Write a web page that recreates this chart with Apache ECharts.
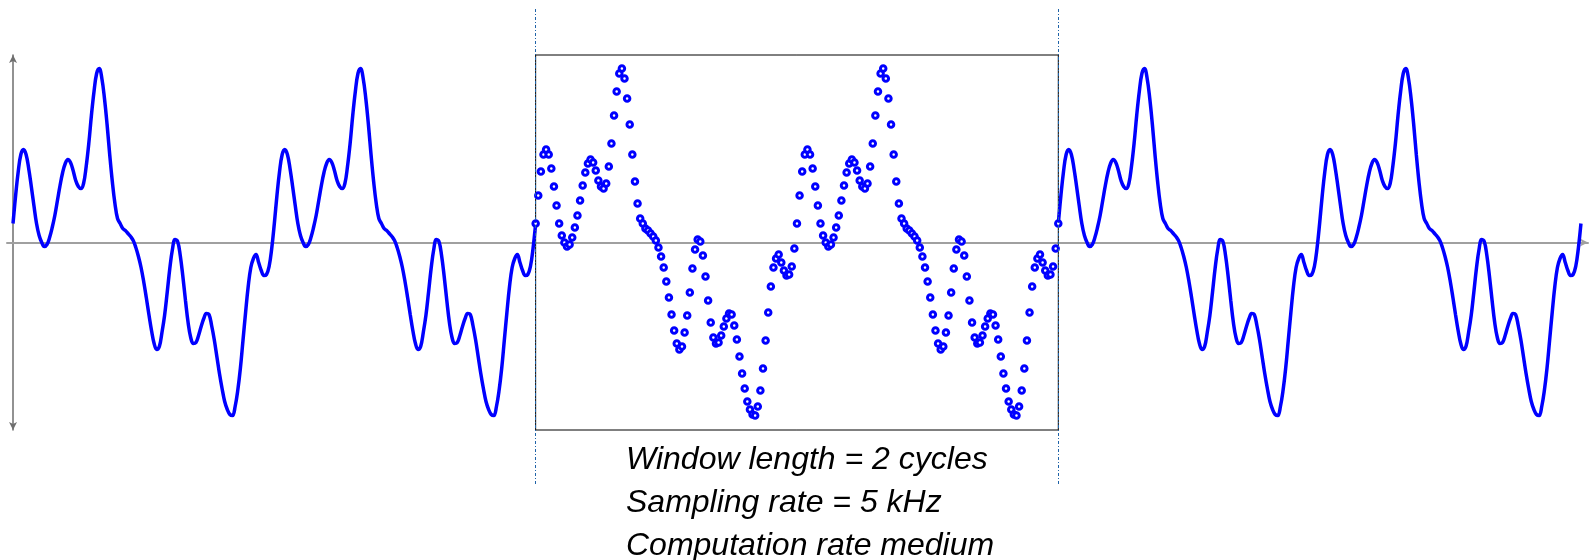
<!DOCTYPE html>
<html lang="en">
  <head>
    <meta charset="utf-8" />
    <title>Sampled waveform window</title>
    <script src="https://cdn.jsdelivr.net/npm/echarts@6.0.0/dist/echarts.min.js"></script>
    <style>
      html, body { margin: 0; padding: 0; background: #fff; }
      #main { width: 1591px; height: 560px; }
    </style>
  </head>
  <body>
    <div id="main"></div>
    <script>
      // one cycle of the waveform, 100 samples
      var cycle = [
        19, 47, 71, 88, 93, 88, 74, 56, 37, 19,
        7, 0, -4, -2, 5, 15, 27, 42, 57, 70,
        79, 83, 80, 72, 62, 56, 54, 59, 76, 99,
        127, 151, 169, 174, 164, 144, 118, 88, 61, 39,
        24, 19, 14, 12, 9, 6, 2, -5, -14, -25,
        -39, -55, -72, -88, -101, -107, -104, -90, -73, -50,
        -26, -7, 3, 1, -13, -34, -58, -80, -95, -101,
        -100, -93, -84, -76, -71, -72, -83, -97, -114, -131,
        -146, -159, -167, -172, -173, -164, -148, -126, -98, -70,
        -44, -25, -16, -12, -20, -28, -33, -32, -24, -6
      ];
      var samplesPerCycle = 100;
      var windowStart = 200;   // sample index where the window begins
      var windowEnd = 400;     // sample index where the window ends
      var totalSamples = 600;  // 6 cycles shown
      var notes = [
        "Window length = 2 cycles",
        "Sampling rate = 5 kHz",
        "Computation rate medium"
      ];

      function points(from, to) {
        var out = [];
        for (var i = from; i <= to; i++) {
          out.push([i, cycle[i % samplesPerCycle]]);
        }
        return out;
      }

      var blue = "#0000ff";
      var chart = echarts.init(document.getElementById("main"));

      var option = {
        animation: false,
        grid: [
          { left: 7, right: 3, top: 55, bottom: 130 },
          { left: 7, right: 3, top: 8, bottom: 76 }
        ],
        xAxis: [
          {
            type: "value", gridIndex: 0, min: -2.3, max: 602.7,
            axisLine: {
              onZero: true,
              symbol: ["none", "arrow"],
              symbolSize: [6, 8],
              lineStyle: { color: "#a0a0a0", width: 2 }
            },
            axisTick: { show: false },
            axisLabel: { show: false },
            splitLine: { show: false }
          },
          {
            type: "value", gridIndex: 1, min: -2.3, max: 602.7, show: false
          }
        ],
        yAxis: [
          {
            type: "value", gridIndex: 0, min: -187.5, max: 187.5,
            axisLine: {
              show: true,
              onZero: true,
              symbol: ["arrow", "arrow"],
              symbolSize: [6, 8],
              lineStyle: { color: "#6e6e6e", width: 1.5 }
            },
            axisTick: { show: false },
            axisLabel: { show: false },
            splitLine: { show: false }
          },
          {
            type: "value", gridIndex: 1, min: 0, max: 1, show: false
          }
        ],
        series: [
          {
            type: "line",
            data: points(0, windowStart),
            smooth: 0.4,
            symbol: "none",
            lineStyle: { color: blue, width: 3.5 }
          },
          {
            type: "line",
            data: points(windowEnd, totalSamples),
            smooth: 0.4,
            symbol: "none",
            lineStyle: { color: blue, width: 3.5 }
          },
          {
            // samples inside the window: white-centred rings
            type: "scatter",
            data: points(windowStart, windowEnd),
            symbol: "circle",
            symbolSize: 5.5,
            itemStyle: { color: "#fff", borderColor: blue, borderWidth: 3, opacity: 1 },
            markArea: {
              silent: true,
              itemStyle: {
                color: "rgba(0,0,0,0)",
                borderColor: "#000",
                borderWidth: 1
              },
              data: [[
                { xAxis: windowStart, yAxis: 187.5 },
                { xAxis: windowEnd, yAxis: -187.5 }
              ]]
            },
            z: 3
          },
          {
            // window edge markers
            type: "scatter",
            xAxisIndex: 1,
            yAxisIndex: 1,
            data: [],
            markLine: {
              silent: true,
              symbol: "none",
              label: { show: false },
              lineStyle: { color: "#1f63a8", width: 1, type: [3, 2, 1, 2] },
              data: [{ xAxis: windowStart }, { xAxis: windowEnd }]
            }
          }
        ],
        graphic: notes.map(function (t, i) {
          return {
            type: "text",
            left: 626,
            top: 444 + i * 43,
            style: {
              text: t,
              fill: "#000",
              font: 'italic 32px "Liberation Sans", Arial, sans-serif'
            }
          };
        })
      };

      chart.setOption(option);
    </script>
  </body>
</html>
